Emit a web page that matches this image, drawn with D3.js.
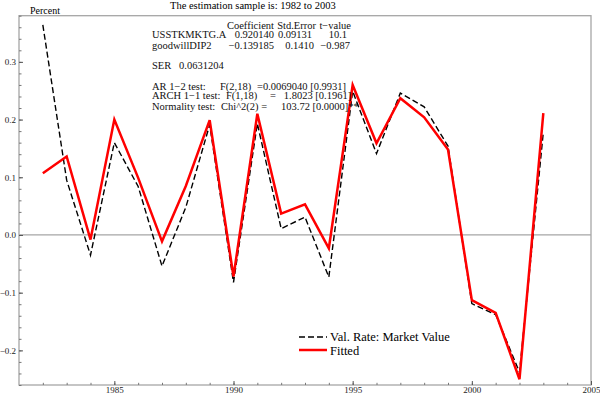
<!DOCTYPE html>
<html>
<head>
<meta charset="utf-8">
<script src="https://cdn.jsdelivr.net/npm/d3@7"></script>
<style>
  body { margin: 0; background: #fff; }
  svg { display: block; font-family: "Liberation Serif", "Times New Roman", serif; }
</style>
</head>
<body>
<div id="chart"></div>
<script>
// data
var years = [1982, 1983, 1984, 1985, 1986, 1987, 1988, 1989, 1990, 1991, 1992,
             1993, 1994, 1995, 1996, 1997, 1998, 1999, 2000, 2001, 2002, 2003];
var actual = [0.364, 0.095, -0.035, 0.160, 0.084, -0.054, 0.048, 0.191, -0.082, 0.193, 0.011,
              0.031, -0.073, 0.249, 0.141, 0.246, 0.222, 0.154, -0.119, -0.138, -0.238, 0.178];
var fitted = [0.107, 0.136, -0.008, 0.200, 0.099, -0.011, 0.085, 0.199, -0.072, 0.210, 0.037,
              0.053, -0.023, 0.260, 0.159, 0.237, 0.204, 0.148, -0.113, -0.135, -0.250, 0.211];
var yTicks = [-0.2, -0.1, 0.0, 0.1, 0.2, 0.3];
var xTicks = [1985, 1990, 1995, 2000, 2005];
var seriesNames = ["Val. Rate: Market Value", "Fitted"];

var title = "The estimation sample is: 1982 to 2003";
var header = ["Coefficient", "Std.Error", "t\u2212value"];
var coefRows = [
  ["USSTKMKTG.A", "0.920140", "0.09131", "10.1"],
  ["goodwillDIP2", "\u22120.139185", "0.1410", "\u22120.987"]
];
var serText = ["SER", "0.0631204"];
var tests = [
  ["AR 1\u22122 test:", "F(2,18)", "=0.0069040 [0.9931]"],
  ["ARCH 1\u22121 test:", "F(1,18)", "=   1.8023 [0.1961]"],
  ["Normality test:", "Chi^2(2) =", "103.72 [0.0000]**"]
];

var width = 600, height = 395;
var mLeft = 19, mRight = 591, mTop = 15.7, mBottom = 385;

var svg = d3.select("#chart").append("svg")
    .attr("width", width)
    .attr("height", height);

var x = d3.scaleLinear().domain([1981, 2005]).range([mLeft, mRight]);
var y = d3.scaleLinear().domain([-0.26, 0.38]).range([mBottom, mTop]);

// frame
svg.append("rect")
    .attr("x", mLeft).attr("y", mTop)
    .attr("width", mRight - mLeft).attr("height", mBottom - mTop)
    .attr("fill", "none")
    .attr("stroke", "#a6a6a6")
    .attr("stroke-width", 1.3);

// zero line
svg.append("line")
    .attr("x1", mLeft).attr("x2", mRight)
    .attr("y1", y(0)).attr("y2", y(0))
    .attr("stroke", "#a6a6a6")
    .attr("stroke-width", 1.2);

// y axis: minor + major ticks pointing inward
var yMinor = d3.range(-0.26, 0.3801, 0.02).map(function (d) { return +d.toFixed(2); });
svg.append("g")
    .attr("transform", "translate(" + mLeft + ",0)")
    .call(d3.axisLeft(y).tickValues(yMinor).tickSize(-2.5).tickFormat(""))
    .call(function (g) { g.select(".domain").remove(); g.selectAll("line").attr("stroke", "#777"); });

svg.append("g")
    .attr("transform", "translate(" + mLeft + ",0)")
    .call(d3.axisLeft(y).tickValues(yTicks).tickSize(-4).tickPadding(3).tickFormat(d3.format(".1f")))
    .call(function (g) {
        g.select(".domain").remove();
        g.selectAll("line").attr("stroke", "#555");
        g.selectAll("text").attr("font-size", 9).attr("font-family", "Liberation Serif").attr("fill", "#222");
    });

// x axis
svg.append("g")
    .attr("transform", "translate(0," + mBottom + ")")
    .call(d3.axisBottom(x).tickValues(d3.range(1982, 2005)).tickSize(-2.2).tickFormat(""))
    .call(function (g) { g.select(".domain").remove(); g.selectAll("line").attr("stroke", "#777"); });

svg.append("g")
    .attr("transform", "translate(0," + mBottom + ")")
    .call(d3.axisBottom(x).tickValues(xTicks).tickSize(-4).tickPadding(2).tickFormat(d3.format("d")))
    .call(function (g) {
        g.select(".domain").remove();
        g.selectAll("line").attr("stroke", "#555");
        g.selectAll("text").attr("font-size", 9).attr("font-family", "Liberation Serif").attr("fill", "#222");
    });

// lines
var line = d3.line()
    .x(function (d) { return x(d[0]); })
    .y(function (d) { return y(d[1]); });

svg.append("path")
    .datum(d3.zip(years, actual))
    .attr("d", line)
    .attr("fill", "none")
    .attr("stroke", "#000")
    .attr("stroke-width", 1.4)
    .attr("stroke-dasharray", "6,3");

svg.append("path")
    .datum(d3.zip(years, fitted))
    .attr("d", line)
    .attr("fill", "none")
    .attr("stroke", "#ff0000")
    .attr("stroke-width", 2.5)
    .attr("stroke-linejoin", "miter");

// texts
svg.append("text").attr("x", 170).attr("y", 9).attr("font-size", 10.5).text(title);
svg.append("text").attr("x", 30).attr("y", 14).attr("font-size", 10).text("Percent");

var fs = 10.5;
var g = svg.append("g").attr("font-size", fs).attr("fill", "#111");
var hdrEnds = [274, 316, 351];
header.forEach(function (t, i) {
    g.append("text").attr("x", hdrEnds[i]).attr("y", 28.5).attr("text-anchor", "end").text(t);
});
var rowY = [38, 49];
var colEnds = [[274, 312, 347], [274, 314, 350]];
coefRows.forEach(function (r, i) {
    g.append("text").attr("x", 152).attr("y", rowY[i]).text(r[0]);
    for (var k = 1; k < 4; k++) {
        g.append("text").attr("x", colEnds[i][k - 1]).attr("y", rowY[i]).attr("text-anchor", "end").text(r[k]);
    }
});
g.append("text").attr("x", 152).attr("y", 68.5).text(serText[0]);
g.append("text").attr("x", 179).attr("y", 68.5).text(serText[1]);

var testY = [89.5, 99, 110];
var testX = [[152, 220, 257], [152, 226, 270], [152, 221, 281]];
tests.forEach(function (r, i) {
    r.forEach(function (t, k) {
        g.append("text").attr("x", testX[i][k]).attr("y", testY[i])
            .attr("xml:space", "preserve").style("white-space", "pre").text(t);
    });
});

// legend
var lg = svg.append("g");
lg.append("line").attr("x1", 299).attr("x2", 327).attr("y1", 337).attr("y2", 337)
    .attr("stroke", "#000").attr("stroke-width", 1.4).attr("stroke-dasharray", "6,3");
lg.append("line").attr("x1", 299).attr("x2", 327).attr("y1", 350).attr("y2", 350)
    .attr("stroke", "#ff0000").attr("stroke-width", 2.5);
lg.append("text").attr("x", 330).attr("y", 341).attr("font-size", 12.5).text(seriesNames[0]);
lg.append("text").attr("x", 330).attr("y", 354.5).attr("font-size", 12.5).text(seriesNames[1]);
</script>
</body>
</html>
